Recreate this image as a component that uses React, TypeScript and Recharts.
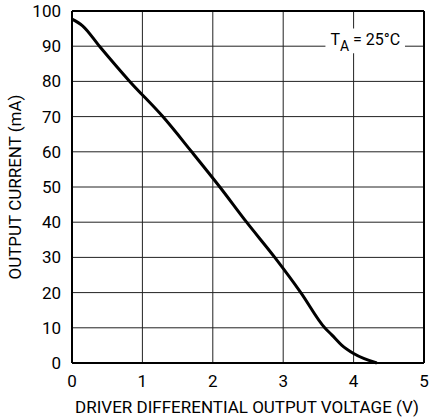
import React from "react";
import {
  LineChart,
  Line,
  XAxis,
  YAxis,
  CartesianGrid,
  ReferenceLine,
  ReferenceArea,
} from "recharts";

// driver differential output voltage (V) vs output current (mA), TA = 25°C
const voltage = [0, 0.15, 0.39, 0.82, 1.29, 1.7, 2.1, 2.48, 2.88, 3.25, 3.59, 3.69, 3.83, 4.0, 4.33];
const current = [97.7, 95.8, 90, 80, 70, 60, 50, 40, 30, 20, 10, 8, 5.1, 2.7, 0];

const xTicks = [0, 1, 2, 3, 4, 5];
const yTicks = [0, 10, 20, 30, 40, 50, 60, 70, 80, 90, 100];

const xTitle = "DRIVER DIFFERENTIAL OUTPUT VOLTAGE (V)";
const yTitle = "OUTPUT CURRENT (mA)";

const data = voltage.map((v, i) => ({ v, i: current[i] }));

const FONT = "Roboto, 'Liberation Sans', Arial, sans-serif";
const tickStyle = { fontSize: 17, fill: "#000", fontFamily: FONT };

function TempLabel(props: any) {
  const { viewBox } = props;
  const x = viewBox.x + 5;
  const y = viewBox.y + 16.5;
  return (
    <text x={x} y={y} fontFamily={FONT} fontSize={16} fill="#000">
      T
      <tspan fontSize={14} dy={6}>A</tspan>
      <tspan dy={-6}> = 25°C</tspan>
    </text>
  );
}

export default function App() {
  return (
    <div style={{ position: "absolute", left: 0, top: 0, width: 430, height: 419, background: "#fff" }}>
      <LineChart
        width={430}
        height={419}
        data={data}
        margin={{ top: 11, right: 6, bottom: 0, left: 0 }}
      >
        <CartesianGrid stroke="#222" strokeWidth={1} />
        <XAxis
          type="number"
          dataKey="v"
          domain={[0, 5]}
          ticks={xTicks}
          height={56}
          tickLine={false}
          tickSize={0}
          tickMargin={12}
          axisLine={{ stroke: "#000", strokeWidth: 2 }}
          tick={tickStyle}
          label={{
            content: () => (
              <text x={247} y={413} textAnchor="middle" fontFamily={FONT} fontSize={17} fill="#000">
                {xTitle}
              </text>
            ),
          }}
        />
        <YAxis
          type="number"
          domain={[0, 100]}
          ticks={yTicks}
          width={72}
          tickLine={false}
          tickSize={0}
          tickMargin={11}
          axisLine={{ stroke: "#000", strokeWidth: 2 }}
          tick={tickStyle}
          label={{
            content: () => (
              <text
                x={0}
                y={0}
                transform="translate(21 187) rotate(-90)"
                textAnchor="middle"
                fontFamily={FONT}
                fontSize={17}
                fill="#000"
              >
                {yTitle}
              </text>
            ),
          }}
        />
        <ReferenceLine x={5} stroke="#000" strokeWidth={2} />
        <ReferenceLine y={100} stroke="#000" strokeWidth={2} />
        <ReferenceArea
          x1={3.6}
          x2={4.73}
          y1={88}
          y2={95}
          fill="#fff"
          fillOpacity={1}
          stroke="none"
          label={<TempLabel />}
        />
        <Line
          type="monotone"
          dataKey="i"
          stroke="#000"
          strokeWidth={3}
          dot={false}
          isAnimationActive={false}
        />
      </LineChart>
    </div>
  );
}
